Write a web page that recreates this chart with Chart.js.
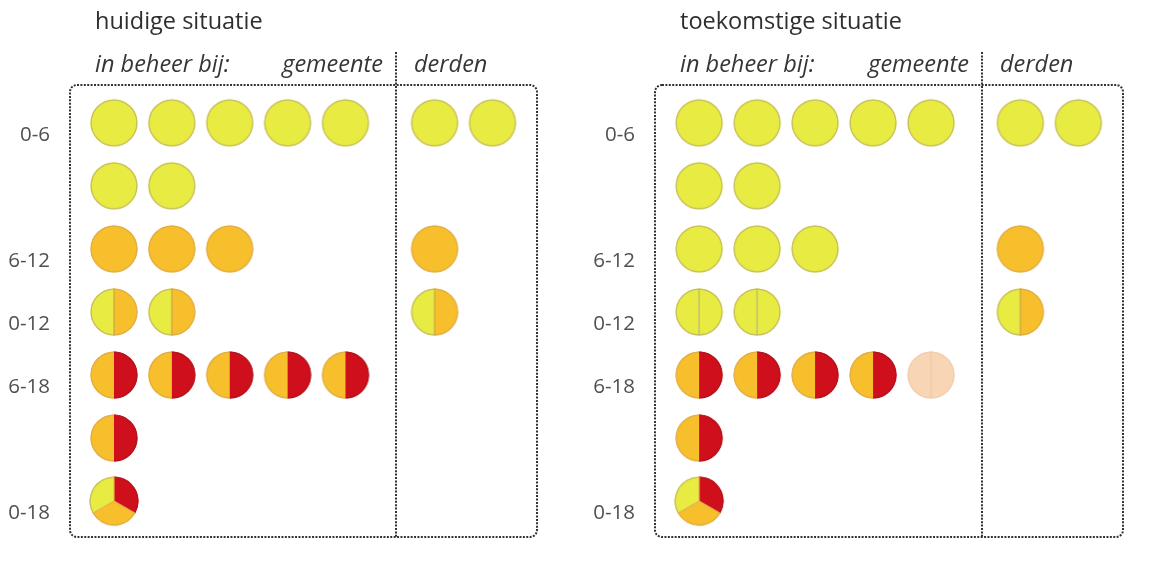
<!DOCTYPE html>
<html>
<head>
<meta charset="utf-8">
<script src="https://cdn.jsdelivr.net/npm/chart.js@4.4.1/dist/chart.umd.min.js"></script>
<style>
  body { margin: 0; background: #fff; }
  .wrap { display: flex; width: 1153px; height: 562px; }
</style>
</head>
<body>
<div class="wrap">
  <canvas id="huidig" width="585" height="562"></canvas>
  <canvas id="toekomst" width="568" height="562"></canvas>
</div>
<script>
// rows (leeftijdsgroepen), empty label = continuation of the row above
const rowLabels = ['0-6', '', '6-12', '0-12', '6-18', '', '0-18'];

// huidige situatie: number of circles per row
const huidigGemeente = [5, 2, 3, 2, 5, 1, 1];
const huidigDerden   = [2, 0, 1, 1, 0, 0, 0];
// colour make-up per row: Y = geel, O = oranje, R = rood (left half first)
const huidigSoort    = ['Y', 'Y', 'O', 'YO', 'OR', 'OR', 'YOR'];

// toekomstige situatie
const toekomstGemeente = [5, 2, 3, 2, 4, 1, 1];
const toekomstVervalt  = [0, 0, 0, 0, 1, 0, 0];   // faded circle
const toekomstDerden   = [2, 0, 1, 1, 0, 0, 0];
const toekomstSoortGemeente = ['Y', 'Y', 'Y', 'YY', 'OR', 'OR', 'YOR'];
const toekomstSoortDerden   = ['Y', 'Y', 'O', 'YO', 'OR', 'OR', 'YOR'];

const DERDEN_X = 5.54;   // first derden column on the x scale
const DIVIDER_X = 4.88;  // gemeente | derden split

const fill = { Y: '#e8eb42', O: '#f7bf2c', R: '#cf0f1b', X: '#f8d5b4' };
const edge = { Y: '#c6bf5e', O: '#e2ad45', R: '#b3141e', X: '#f0cfb0' };

// draw one circle as a small canvas, used as point style
function makeSprite(kind) {
  const size = 56, c = size / 2;
  const r = kind.length === 3 ? 24.5 : 23.5;
  const cv = document.createElement('canvas');
  cv.width = cv.height = size;
  const g = cv.getContext('2d');
  const parts = kind.split('');
  let sectors;
  if (parts.length === 1) {
    sectors = [[parts[0], 0, Math.PI * 2]];
  } else if (parts.length === 2) {
    sectors = [[parts[0], Math.PI / 2, Math.PI * 1.5], [parts[1], -Math.PI / 2, Math.PI / 2]];
  } else {
    const d = Math.PI / 180;
    sectors = [[parts[2], -90 * d, 30 * d], [parts[1], 30 * d, 150 * d], [parts[0], 150 * d, 270 * d]];
  }
  sectors.forEach(([k, a0, a1]) => {
    g.beginPath();
    g.moveTo(c, c);
    g.arc(c, c, r, a0, a1);
    g.closePath();
    g.fillStyle = fill[k];
    g.fill();
  });
  sectors.forEach(([k, a0, a1]) => {
    g.beginPath();
    g.arc(c, c, r - 0.6, a0, a1);
    g.lineWidth = 1.3;
    g.strokeStyle = edge[k];
    g.stroke();
  });
  // split lines
  g.lineWidth = 1.2;
  if (parts.length === 2 && parts[1] !== 'R') {
    g.strokeStyle = parts[0] === 'Y' && parts[1] === 'Y' ? '#bdb57a' : '#c9a54a';
    g.beginPath(); g.moveTo(c, c - r); g.lineTo(c, c + r); g.stroke();
  }
  if (kind === 'X') {
    g.strokeStyle = '#efcaa8';
    g.beginPath(); g.moveTo(c, c - r); g.lineTo(c, c + r); g.stroke();
  }
  if (parts.length === 3) {
    g.strokeStyle = '#e3b24c';
    [-90, 30, 150].forEach(a => {
      const t = a * Math.PI / 180;
      g.beginPath(); g.moveTo(c, c); g.lineTo(c + r * Math.cos(t), c + r * Math.sin(t)); g.stroke();
    });
  }
  return cv;
}
const sprites = {};
['Y', 'O', 'YO', 'YY', 'OR', 'YOR', 'X'].forEach(k => sprites[k] = makeSprite(k));

function buildPoints(gemeente, derden, soortG, soortD, vervalt) {
  const pts = [];
  rowLabels.forEach((lbl, r) => {
    for (let c = 0; c < gemeente[r]; c++) pts.push({ x: c, y: r, kind: soortG[r] });
    const extra = vervalt ? vervalt[r] : 0;
    for (let c = 0; c < extra; c++) pts.push({ x: gemeente[r] + c, y: r, kind: 'X' });
    for (let c = 0; c < derden[r]; c++) pts.push({ x: DERDEN_X + c, y: r, kind: soortD[r] });
  });
  return pts;
}

// dotted frame, divider and header texts
const framePlugin = {
  id: 'frame',
  beforeDatasetsDraw(chart, args, opts) {
    const { ctx, chartArea: a, scales } = chart;
    ctx.save();
    ctx.strokeStyle = '#333';
    ctx.lineWidth = 2;
    ctx.setLineDash([2, 1.4]);
    const rad = 7;
    ctx.beginPath();
    ctx.moveTo(a.left + rad, a.top);
    ctx.arcTo(a.right, a.top, a.right, a.bottom, rad);
    ctx.arcTo(a.right, a.bottom, a.left, a.bottom, rad);
    ctx.arcTo(a.left, a.bottom, a.left, a.top, rad);
    ctx.arcTo(a.left, a.top, a.right, a.top, rad);
    ctx.closePath();
    ctx.stroke();
    const dx = Math.round(scales.x.getPixelForValue(DIVIDER_X));
    ctx.beginPath();
    ctx.moveTo(dx, 52);
    ctx.lineTo(dx, a.bottom);
    ctx.stroke();
    ctx.setLineDash([]);

    ctx.fillStyle = '#2e2e2e';
    ctx.textBaseline = 'alphabetic';
    ctx.textAlign = 'left';
    ctx.font = '23.5px "Open Sans"';
    ctx.fillText(opts.title, a.left + 25, 29);
    ctx.font = 'italic 23.5px "Open Sans"';
    ctx.fillStyle = '#363636';
    ctx.fillText('in beheer bij:', a.left + 25, 72);
    ctx.textAlign = 'right';
    ctx.fillText('gemeente', dx - 13, 72);
    ctx.textAlign = 'left';
    ctx.fillText('derden', dx + 18, 72);
    ctx.restore();
  }
};

function makePanel(id, title, points, rightPad) {
  new Chart(document.getElementById(id), {
    type: 'scatter',
    data: {
      datasets: [{
        data: points,
        pointRadius: 23,
        pointStyle: (ctx) => ctx.raw ? sprites[ctx.raw.kind] : 'circle'
      }]
    },
    options: {
      responsive: false,
      devicePixelRatio: 1,
      animation: false,
      events: [],
      layout: { padding: { left: 0, top: 85, right: rightPad, bottom: 25 } },
      plugins: {
        legend: { display: false },
        tooltip: { enabled: false },
        frame: { title: title }
      },
      scales: {
        x: { type: 'linear', min: -0.76, max: 7.31, display: false },
        y: {
          type: 'linear',
          reverse: true,
          min: -0.6,
          max: 6.57,
          grid: { display: false, drawTicks: false },
          border: { display: false },
          afterFit: (scale) => {
            scale.width = 70;
            scale.paddingTop = 0;
            scale.paddingBottom = 0;
          },
          afterBuildTicks: (scale) => { scale.ticks = rowLabels.map((_, i) => ({ value: i })); },
          ticks: {
            autoSkip: false,
            padding: 20,
            labelOffset: 12,
            color: '#505050',
            font: { family: '"Open Sans"', size: 20.5 },
            callback: (v) => rowLabels[v] || ''
          }
        }
      }
    },
    plugins: [framePlugin]
  });
}

makePanel('huidig', 'huidige situatie',
  buildPoints(huidigGemeente, huidigDerden, huidigSoort, huidigSoort, null), 48);
makePanel('toekomst', 'toekomstige situatie',
  buildPoints(toekomstGemeente, toekomstDerden, toekomstSoortGemeente, toekomstSoortDerden, toekomstVervalt), 30);
</script>
</body>
</html>
